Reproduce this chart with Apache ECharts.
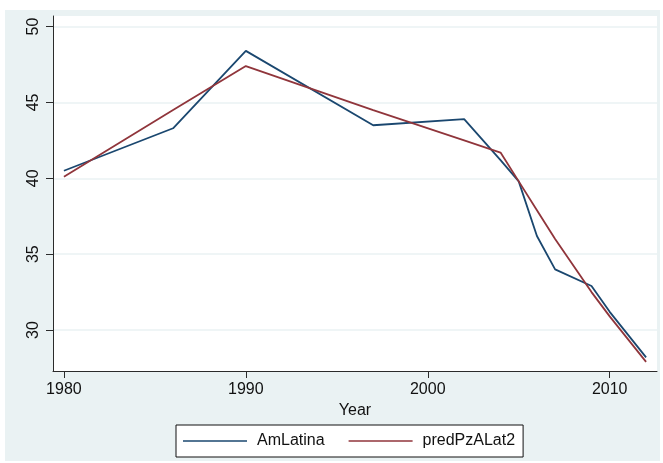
<!DOCTYPE html>
<html>
<head>
<meta charset="utf-8">
<script src="https://cdn.jsdelivr.net/npm/echarts@6/dist/echarts.min.js"></script>
<style>
    html, body { margin: 0; padding: 0; background: #fff; }
    #chart { width: 663px; height: 463px; }
</style>
</head>
<body>
<div id="chart"></div>
<script>
// years with observations
var years = [1980, 1986, 1990, 1997, 2002, 2004, 2005, 2006, 2007, 2009, 2010, 2011, 2012];
// AmLatina (observed)
var amLatina = [40.5, 43.3, 48.4, 43.5, 43.9, 41.2, 39.8, 36.2, 34.0, 32.9, 31.2, 29.7, 28.2];
// predPzALat2 (fitted)
var predPzALat2 = [40.1, 44.5, 47.4, 44.5, 42.5, 41.7, 39.8, 37.9, 36.0, 32.5, 30.9, 29.4, 27.9];

var xTicks = [1980, 1990, 2000, 2010];
var yTicks = [30, 35, 40, 45, 50];

var bgColor = "#EAF2F3",
    axisColor = "#2b2b2b",
    fontFamily = "'Liberation Sans', Arial, sans-serif";

function pairs(xs, ys) {
    var out = [];
    for (var i = 0; i < xs.length; i++) {
        out.push([xs[i], ys[i]]);
    }
    return out;
}

// plain numbers, no thousands separator
function plain(v) {
    return String(v);
}

var chart = echarts.init(document.getElementById("chart"), null, { renderer: "canvas" });

var option = {
    backgroundColor: "#ffffff",
    animation: false,
    // outer graph region
    graphic: [{
        type: "rect",
        z: -10,
        silent: true,
        shape: { x: 5, y: 10, width: 655, height: 451 },
        style: { fill: bgColor }
    }],
    grid: {
        left: 53,
        top: 16,
        right: 6,
        bottom: 92,
        show: true,
        backgroundColor: "#ffffff",
        borderWidth: 0
    },
    xAxis: {
        type: "value",
        min: 1979.4,
        max: 2012.6,
        name: "Year",
        nameLocation: "middle",
        nameGap: 27,
        nameTextStyle: { color: "#111", fontSize: 16, fontFamily: fontFamily },
        axisLine: { show: true, onZero: false, lineStyle: { color: axisColor, width: 1 } },
        axisTick: { show: true, length: 7, customValues: xTicks, lineStyle: { color: axisColor } },
        axisLabel: {
            customValues: xTicks,
            formatter: plain,
            margin: 11,
            color: "#111",
            fontSize: 16,
            fontFamily: fontFamily
        },
        splitLine: { show: false }
    },
    yAxis: {
        type: "value",
        min: 27.3,
        max: 50.7,
        axisLine: { show: true, onZero: false, lineStyle: { color: axisColor, width: 1 } },
        axisTick: { show: true, length: 7, customValues: yTicks, lineStyle: { color: axisColor } },
        axisLabel: {
            customValues: yTicks,
            formatter: plain,
            rotate: 90,
            margin: 11,
            color: "#111",
            fontSize: 16,
            fontFamily: fontFamily
        },
        splitLine: { show: true, lineStyle: { color: bgColor, width: 1.5 } }
    },
    legend: {
        left: 176,
        top: 425,
        width: 358,
        backgroundColor: "#ffffff",
        borderColor: "#111",
        borderWidth: 1,
        borderRadius: 0,
        padding: [8, 8, 8, 7],
        itemWidth: 64,
        itemHeight: 1.6,
        itemGap: 24,
        icon: "rect",
        textStyle: {
            color: "#111",
            fontSize: 16,
            fontFamily: fontFamily,
            padding: [0, 0, 0, 5]
        },
        data: ["AmLatina", "predPzALat2"]
    },
    series: [{
        name: "AmLatina",
        type: "line",
        data: pairs(years, amLatina),
        showSymbol: false,
        symbol: "none",
        lineStyle: { color: "#1A476F", width: 1.8 },
        itemStyle: { color: "#1A476F" }
    }, {
        name: "predPzALat2",
        type: "line",
        data: pairs(years, predPzALat2),
        showSymbol: false,
        symbol: "none",
        lineStyle: { color: "#90353B", width: 1.8 },
        itemStyle: { color: "#90353B" }
    }]
};

chart.setOption(option);
</script>
</body>
</html>
